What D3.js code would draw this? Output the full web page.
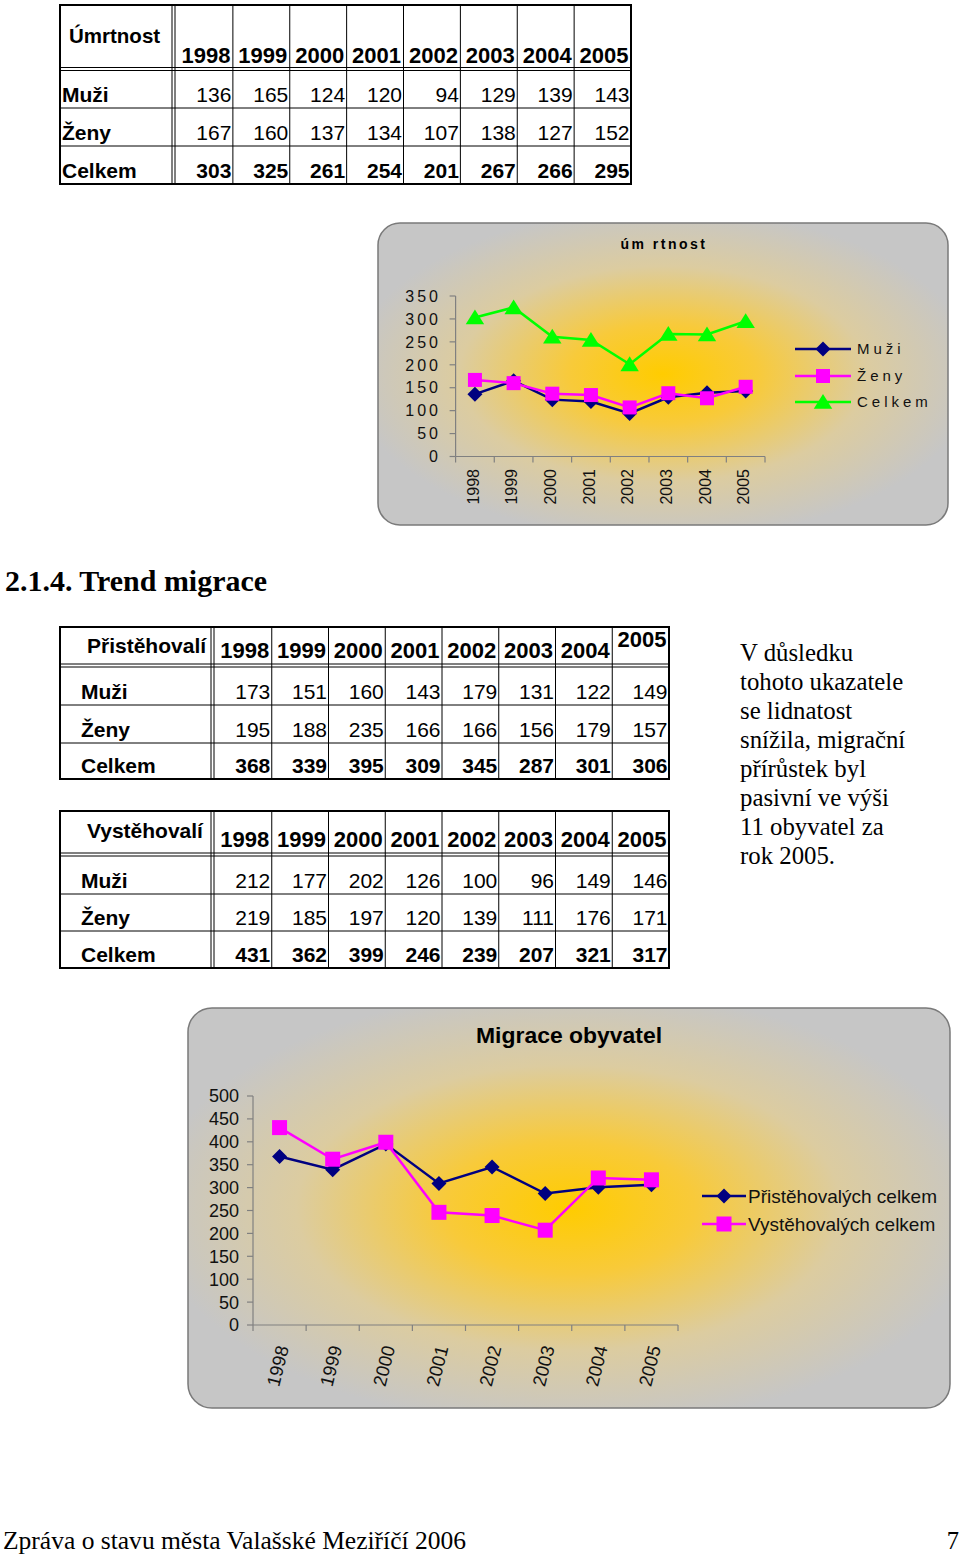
<!DOCTYPE html>
<html><head><meta charset="utf-8">
<script src="https://cdn.jsdelivr.net/npm/d3@7"></script>
<style>body{margin:0;background:#fff} svg{display:block}</style>
</head><body>
<svg id="page" width="960" height="1555"></svg>
<script>
// ---------- data ----------
const years = ["1998","1999","2000","2001","2002","2003","2004","2005"];
const rowLabels = ["Muži","Ženy","Celkem"];
const umrtMuzi   = [136,165,124,120,94,129,139,143];
const umrtZeny   = [167,160,137,134,107,138,127,152];
const umrtCelkem = [303,325,261,254,201,267,266,295];
const pristMuzi   = [173,151,160,143,179,131,122,149];
const pristZeny   = [195,188,235,166,166,156,179,157];
const pristCelkem = [368,339,395,309,345,287,301,306];
const vystMuzi   = [212,177,202,126,100,96,149,146];
const vystZeny   = [219,185,197,120,139,111,176,171];
const vystCelkem = [431,362,399,246,239,207,321,317];
const umrtTicks = [0,50,100,150,200,250,300,350];
const migrTicks = [0,50,100,150,200,250,300,350,400,450,500];
const umrtSeries = ["Muži","Ženy","Celkem"];
const migrSeries = ["Přistěhovalých celkem","Vystěhovalých celkem"];
const paragraph = ["V důsledku","tohoto ukazatele","se lidnatost","snížila, migrační","přírůstek byl","pasivní ve výši","11 obyvatel za","rok 2005."];

const svg = d3.select("#page");
const defs = svg.append("defs");
const NAVY="#000080", MAG="#ff00ff", GRN="#00ff00";
const sans = "Arial, 'Liberation Sans', sans-serif";

// ---------- tables ----------
function drawTable(o){
  const g = svg.append("g");
  const x = d3.scaleBand().domain(years).range([o.colStart, o.right]);
  const line=(x1,y1,x2,y2,w)=>g.append("line").attr("x1",x1).attr("y1",y1).attr("x2",x2).attr("y2",y2)
      .attr("stroke","#000").attr("stroke-width",w||1);
  g.append("rect").attr("x",o.left).attr("y",o.top).attr("width",o.right-o.left).attr("height",o.bottom-o.top)
    .attr("fill","none").attr("stroke","#000").attr("stroke-width",2);
  line(o.colStart-4,o.top,o.colStart-4,o.bottom);
  line(o.colStart-1,o.top,o.colStart-1,o.bottom);
  years.slice(1).forEach(yr=>line(x(yr),o.top,x(yr),o.bottom));
  line(o.left,o.headBottom-3,o.right,o.headBottom-3);
  line(o.left,o.headBottom,o.right,o.headBottom);
  o.rowLines.forEach(yy=>line(o.left,yy,o.right,yy));
  g.append("text").attr("x",o.titleX).attr("y",o.titleY).text(o.title)
    .attr("font-family",sans).attr("font-size",o.titleSize).attr("font-weight","bold");
  g.selectAll("text.yr").data(years).enter().append("text").attr("class","yr")
    .attr("x",d=>x(d)+x.bandwidth()-2.5).attr("y",(d,i)=>o.yearY[i])
    .attr("text-anchor","end").attr("font-family",sans).attr("font-size",22).attr("font-weight","bold").text(d=>d);
  o.rows.forEach((vals,r)=>{
    g.append("text").attr("x",o.labelX).attr("y",o.rowY[r]).text(rowLabels[r])
      .attr("font-family",sans).attr("font-size",21).attr("font-weight","bold");
    g.selectAll(null).data(vals).enter().append("text")
      .attr("x",(d,i)=>x(years[i])+x.bandwidth()-1.5).attr("y",o.rowY[r])
      .attr("text-anchor","end").attr("font-family",sans).attr("font-size",21)
      .attr("font-weight",r===2?"bold":"normal").text(d=>d);
  });
}

drawTable({left:60,right:631,top:5,bottom:184,colStart:176,headBottom:70.5,rowLines:[108,146],
  title:"Úmrtnost",titleSize:20.5,titleX:69,titleY:43,yearY:years.map(()=>63),labelX:62,rowY:[102,140,178],
  rows:[umrtMuzi,umrtZeny,umrtCelkem]});
drawTable({left:60,right:669,top:627,bottom:779,colStart:215,headBottom:667,rowLines:[705,743],
  title:"Přistěhovalí",titleSize:21,titleX:87,titleY:653,yearY:years.map((d,i)=>i===7?647:658),labelX:81,rowY:[699,737,773],
  rows:[pristMuzi,pristZeny,pristCelkem]});
drawTable({left:60,right:669,top:811,bottom:968,colStart:215,headBottom:856,rowLines:[894,931],
  title:"Vystěhovalí",titleSize:21,titleX:87,titleY:838,yearY:years.map(()=>847),labelX:81,rowY:[888,925,962],
  rows:[vystMuzi,vystZeny,vystCelkem]});

// ---------- texts ----------
const serif = "'Times New Roman','Liberation Serif',serif";
svg.append("text").attr("x",5).attr("y",591).attr("font-family",serif).attr("font-size",29)
  .attr("font-weight","bold").attr("textLength",262).attr("lengthAdjust","spacingAndGlyphs").text("2.1.4. Trend migrace");
svg.selectAll("text.par").data(paragraph).enter().append("text").attr("class","par")
  .attr("x",740).attr("y",(d,i)=>661+i*29).attr("font-family",serif).attr("font-size",24.8).text(d=>d);
svg.append("text").attr("x",3).attr("y",1549).attr("font-family",serif).attr("font-size",24.5)
  .attr("textLength",463).attr("lengthAdjust","spacingAndGlyphs")
  .text("Zpráva o stavu města Valašské Meziříčí 2006");
svg.append("text").attr("x",959).attr("y",1549).attr("text-anchor","end").attr("font-family",serif).attr("font-size",24.5).text("7");

// ---------- chart helpers ----------
function gradient(id){
  const gr = defs.append("radialGradient").attr("id",id).attr("cx","50%").attr("cy","50%").attr("r","55%");
  gr.append("stop").attr("offset","0%").attr("stop-color","#ffcc00");
  gr.append("stop").attr("offset","30%").attr("stop-color","#f8ca3a");
  gr.append("stop").attr("offset","65%").attr("stop-color","#dccca0");
  gr.append("stop").attr("offset","100%").attr("stop-color","#c6c6c6");
}
function marker(g,type,cx,cy,color,s){
  if(type==="diamond"){
    g.append("path").attr("d",`M${cx},${cy-s}L${cx+s},${cy}L${cx},${cy+s}L${cx-s},${cy}Z`).attr("fill",color);
  } else if(type==="square"){
    g.append("rect").attr("x",cx-s).attr("y",cy-s).attr("width",2*s).attr("height",2*s).attr("fill",color);
  } else {
    g.append("path").attr("d",`M${cx},${cy-s}L${cx+s*1.15},${cy+s*0.85}L${cx-s*1.15},${cy+s*0.85}Z`).attr("fill",color);
  }
}
function drawChart(o){
  gradient(o.gid);
  const g = svg.append("g");
  g.append("rect").attr("x",o.box[0]).attr("y",o.box[1]).attr("width",o.box[2]).attr("height",o.box[3])
    .attr("rx",o.rx).attr("ry",o.rx).attr("fill",`url(#${o.gid})`).attr("stroke","#7a7a7a").attr("stroke-width",1.5);
  const t = g.append("text").attr("x",o.titleX).attr("y",o.titleY).attr("text-anchor","middle").text(o.title)
    .attr("font-family",sans).attr("font-size",o.titleSize).attr("font-weight","bold")
    .style("letter-spacing",o.titleLS+"px");
  if(o.titleLen) t.attr("textLength",o.titleLen).attr("lengthAdjust","spacingAndGlyphs");
  const x = d3.scaleBand().domain(years).range(o.xr);
  const y = d3.scaleLinear().domain([0,o.max]).range(o.yr);
  const px = d=>x(d)+x.bandwidth()/2;
  g.append("line").attr("x1",o.xr[0]).attr("x2",o.xr[0]).attr("y1",o.yr[0]).attr("y2",o.yr[1]).attr("stroke","#808080").attr("stroke-width",1.2);
  g.append("line").attr("x1",o.xr[0]).attr("x2",o.xr[1]).attr("y1",o.yr[0]).attr("y2",o.yr[0]).attr("stroke","#808080").attr("stroke-width",1.2);
  g.selectAll(null).data(o.ticks).enter().append("line").attr("x1",o.xr[0]-6).attr("x2",o.xr[0])
    .attr("y1",d=>y(d)).attr("y2",d=>y(d)).attr("stroke","#808080").attr("stroke-width",1.2);
  g.selectAll(null).data(years.concat(["end"])).enter().append("line")
    .attr("x1",d=>d==="end"?o.xr[1]:x(d)).attr("x2",d=>d==="end"?o.xr[1]:x(d))
    .attr("y1",o.yr[0]).attr("y2",o.yr[0]+6).attr("stroke","#808080").attr("stroke-width",1.2);
  g.selectAll(null).data(o.ticks).enter().append("text").attr("x",o.tickX).attr("y",d=>y(d)).attr("dy","0.36em")
    .attr("text-anchor","end").attr("font-family",sans).attr("font-size",o.tickSize)
    .attr("fill","#111").style("letter-spacing",o.tickLS+"px").text(d=>d);
  g.selectAll(null).data(years).enter().append("text")
    .attr("transform",d=>`translate(${px(d)+o.yearDx},${o.yearY}) rotate(${o.yearRot})`).attr("dy","0.36em")
    .attr("text-anchor","end").attr("font-family",sans).attr("font-size",o.yearSize)
    .attr("fill","#111").text(d=>d);
  const ln = d3.line().x((d,i)=>px(years[i])).y(d=>y(d));
  o.series.forEach(s=>{
    g.append("path").attr("d",ln(s.values)).attr("fill","none").attr("stroke",s.color).attr("stroke-width",2.5);
    s.values.forEach((v,i)=>marker(g,s.marker,px(years[i]),y(v),s.color,s.size));
  });
  o.series.forEach((s,i)=>{
    const ly = o.legY[i];
    g.append("line").attr("x1",o.legX[0]).attr("x2",o.legX[1]).attr("y1",ly).attr("y2",ly).attr("stroke",s.color).attr("stroke-width",2.5);
    marker(g,s.marker,(o.legX[0]+o.legX[1])/2,ly,s.color,s.size);
    g.append("text").attr("x",o.legTextX).attr("y",ly).attr("dy","0.36em").text(s.name)
      .attr("font-family",sans).attr("font-size",o.legSize)
      .style("letter-spacing",o.legLS+"px").attr("fill","#111");
  });
}

drawChart({gid:"g1",box:[378,223,570,302],rx:22,title:"úm rtnost",titleX:664,titleY:249,titleSize:14,titleLS:2.5,
  xr:[455.6,765],yr:[456.5,296],max:350,ticks:umrtTicks,tickX:441,tickSize:16,tickLS:3,
  yearY:469,yearDx:-2,yearRot:-90,yearSize:16,
  series:[{name:umrtSeries[0],values:umrtMuzi,color:NAVY,marker:"diamond",size:7.5},
          {name:umrtSeries[1],values:umrtZeny,color:MAG,marker:"square",size:7},
          {name:umrtSeries[2],values:umrtCelkem,color:GRN,marker:"triangle",size:8}],
  legX:[795,851],legY:[349,376,402],legTextX:857,legSize:15,legLS:4});

drawChart({gid:"g2",box:[188,1008,762,400],rx:24,title:"Migrace obyvatel",titleX:569,titleY:1043,titleSize:22,titleLS:0,titleLen:186,
  xr:[253,678],yr:[1325,1096],max:500,ticks:migrTicks,tickX:239,tickSize:18,tickLS:0,
  yearY:1346,yearDx:3,yearRot:-76,yearSize:18.5,
  series:[{name:migrSeries[0],values:pristCelkem,color:NAVY,marker:"diamond",size:7.5},
          {name:migrSeries[1],values:vystCelkem,color:MAG,marker:"square",size:7.5}],
  legX:[702,746],legY:[1196,1224],legTextX:748,legSize:19,legLS:0});
</script>
</body></html>
